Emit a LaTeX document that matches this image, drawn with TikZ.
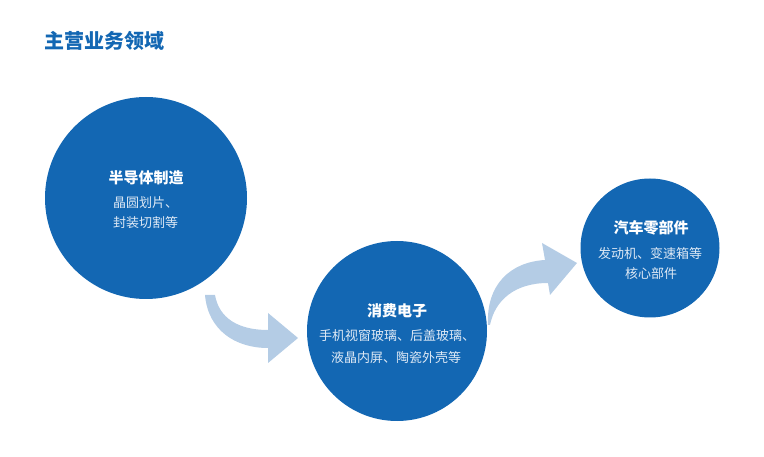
\documentclass[tikz,border=0pt]{standalone}
\usepackage{fontspec}
\setmainfont{Noto Sans CJK SC}
\usetikzlibrary{positioning}
\definecolor{discblue}{RGB}{19,103,179}
\definecolor{arrowblue}{RGB}{180,204,229}
\definecolor{subwhite}{RGB}{222,233,245}

\begin{document}
\begin{tikzpicture}[x=1pt,y=-1pt,
  disc/.style={circle, fill=discblue, inner sep=0pt},
  headtext/.style={text=white, inner sep=0pt, font=\fontsize{15}{18}\selectfont\bfseries},
  subtext/.style={text=subwhite, inner sep=0pt, font=\fontsize{13}{16}\selectfont}]
\useasboundingbox (0,0) rectangle (764,457);
\node [anchor=west, inner sep=0pt, text=discblue, font=\fontsize{20}{24}\selectfont\bfseries] (title) at (44,41) {主营业务领域};

% semiconductor
\node [disc, minimum size=202pt] (semi) at (146,198) {};
\node [headtext] (semihead) at (146,178) {半导体制造};
\node [subtext, anchor=west] (semione) at (113,203) {晶圆划片、};
\node [subtext, anchor=west] (semitwo) at (113,223) {封装切割等};

% consumer electronics
\node [disc, minimum size=180pt] (elec) at (397,331) {};
\node [headtext] (elechead) at (397,311) {消费电子};
\node [subtext] (elecone) at (397,336) {手机视窗玻璃、后盖玻璃、};
\node [subtext] (electwo) at (396,358) {液晶内屏、陶瓷外壳等};

% auto parts
\node [disc, minimum size=139pt] (auto) at (650,248) {};
\node [headtext] (autohead) at (651,228) {汽车零部件};
\node [subtext] (autoone) at (650,254) {发动机、变速箱等};
\node [subtext] (autotwo) at (651,274) {核心部件};

% arrows
\fill [arrowblue] (205,295) -- (215,295) .. controls (219,318) and (238,330) .. (268,330) -- (268,313) -- (298,338) -- (268,363) -- (268,348) .. controls (235,348) and (208,330) .. (205,295) -- cycle;
\fill [arrowblue] (488,325) .. controls (486,285) and (510,262) .. (545,260) -- (542,243) -- (577,263) -- (550,295) -- (548,283) .. controls (515,283) and (495,300) .. (490,325) -- cycle;
\end{tikzpicture}
\end{document}
